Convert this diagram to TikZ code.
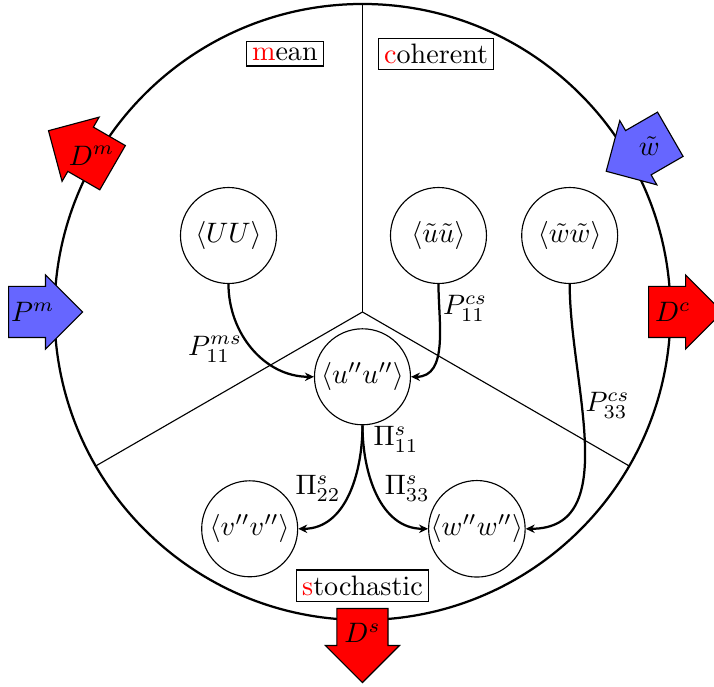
\documentclass[tikz,border=0pt]{standalone}
\usetikzlibrary{shapes.arrows,arrows.meta}
\begin{document}
\begin{tikzpicture}[
  state/.style={draw, circle, minimum size=1.2cm, inner sep=0pt},
  region/.style={draw, thin, inner sep=2pt},
  flux/.style={draw, thin, single arrow, minimum height=0.925cm, inner xsep=0pt, inner ysep=0.3125cm,
    single arrow head extend=0.144cm, anchor=tail},
  link/.style={thick, -{Stealth[length=3.2pt, width=3pt]}},
  close/.style={inner sep=1pt}
]
\useasboundingbox (-4.531,-4.6875) rectangle (4.394,3.9);
% budget circle and its three parts
\draw[thick] (0,0) circle (3.85);
\draw[thin] (0,0) -- (90:3.85);
\draw[thin] (0,0) -- (210:3.85);
\draw[thin] (0,0) -- (330:3.85);
\node[region] (mean) at (-0.97, 3.225) {\textcolor{red}{m}ean};
\node[region] (coh) at (0.92, 3.225) {\textcolor{red}{c}oherent};
\node[region] (sto) at (0, -3.42) {\textcolor{red}{s}tochastic};
% stresses
\node[state] (UU) at (-1.675, 0.956) {$\langle UU\rangle$};
\node[state] (tuu) at (0.95, 0.956) {$\langle\tilde u\tilde u\rangle$};
\node[state] (tww) at (2.59, 0.956) {$\langle\tilde w\tilde w\rangle$};
\node[state] (uu) at (0, -0.81) {$\langle u''u''\rangle$};
\node[state] (vv) at (-1.41, -2.71) {$\langle v''v''\rangle$};
\node[state] (ww) at (1.43, -2.71) {$\langle w''w''\rangle$};
% transfers
\draw[link] (UU.south) to[out=-90, in=180] node[left, pos=0.5] {$P_{11}^{ms}$} (uu.west);
\draw[link] (tuu.south) to[out=-90, in=0] node[right, close, pos=0.2] {$P_{11}^{cs}$} (uu.east);
\draw[link] (tww.south) to[out=-90, in=0] node[right, close, pos=0.38] {$P_{33}^{cs}$} (ww.east);
\draw[link] (uu.south) to[out=-90, in=0] node[left, pos=0.45] {$\Pi_{22}^{s}$} (vv.east);
\draw[link] (uu.south) to[out=-90, in=180] node[right, pos=0.1] {$\Pi_{11}^{s}$}
  node[right, pos=0.45] {$\Pi_{33}^{s}$} (ww.west);
% production and dissipation
\node[flux, fill=blue!60, rotate=0, label=center:$P^m$] (Pm) at (180:4.43) {};
\node[flux, fill=red, rotate=150, label=center:$D^m$] (Dm) at (150:3.6) {};
\node[flux, fill=blue!60, rotate=210, label=center:$\tilde w$] (tw) at (30:4.45) {};
\node[flux, fill=red, rotate=0, label=center:$D^c$] (Dc) at (0:3.57) {};
\node[flux, fill=red, rotate=270, label=center:$D^s$] (Ds) at (270:3.7) {};
\end{tikzpicture}
\end{document}
